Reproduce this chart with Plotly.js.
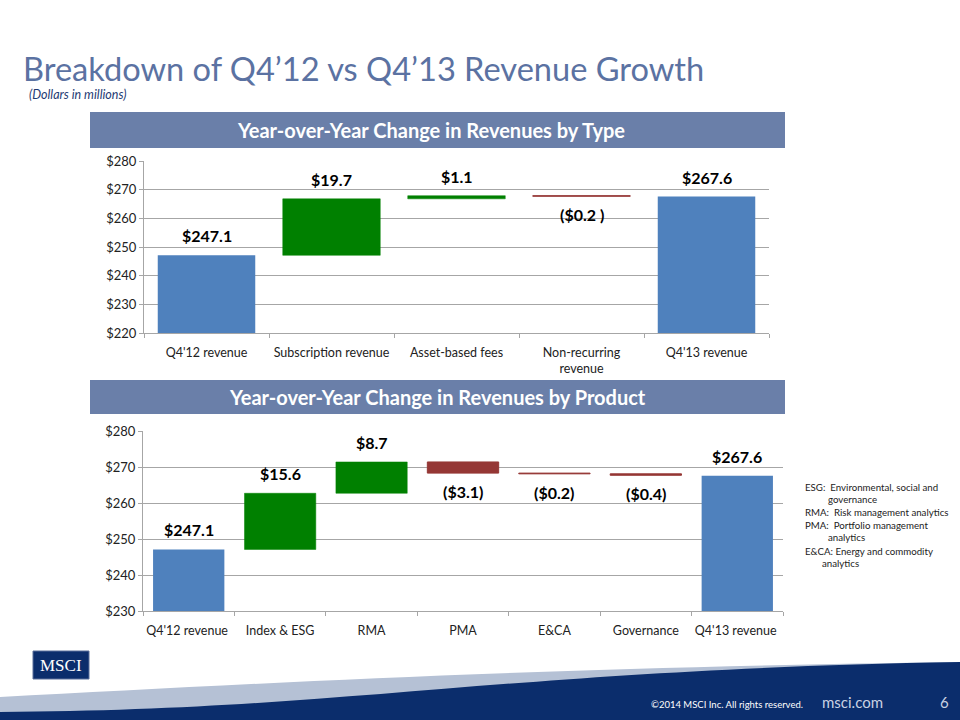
<!DOCTYPE html>
<html>
<head>
<meta charset="utf-8">
<script src="https://cdn.plot.ly/plotly-3.0.1.min.js"></script>
<style>html,body{margin:0;padding:0;background:#fff;}#chart{width:960px;height:720px;}</style>
</head>
<body>
<div id="chart"></div>
<script>
// ---- Data ----
const typeCategories = ["Q4'12 revenue", "Subscription revenue", "Asset-based fees", "Non-recurring<br>revenue", "Q4'13 revenue"];
const typeValues = [247.1, 19.7, 1.1, -0.2, 267.6];
const typeMeasures = ["absolute", "relative", "relative", "relative", "absolute"];
const typeLabels = ["$247.1", "$19.7", "$1.1", "($0.2 )", "$267.6"];

const productCategories = ["Q4'12 revenue ", "Index & ESG", "RMA", "PMA", "E&CA", "Governance", "Q4'13 revenue "];
const productValues = [247.1, 15.6, 8.7, -3.1, -0.2, -0.4, 267.6];
const productMeasures = ["absolute", "relative", "relative", "relative", "relative", "relative", "absolute"];
const productLabels = ["$247.1", "$15.6", "$8.7", "($3.1)", "($0.2)", "($0.4)", "$267.6"];

const yTicksTop = [220, 230, 240, 250, 260, 270, 280];
const yTicksBottom = [230, 240, 250, 260, 270, 280];

// ---- Helpers ----
const W = 960, H = 720;
const X = p => p / W;
const Y = p => 1 - p / H;
const FONT = "Lato, 'Open Sans', sans-serif";

const BLUE = "#4f81bd", GREEN = "#008000", RED = "#953735";

function wfTrace(cats, vals, meas, xa, ya) {
  return {
    type: "waterfall", x: cats, y: vals, measure: meas,
    xaxis: xa, yaxis: ya,
    increasing: {marker: {color: GREEN, line: {color: GREEN, width: 0.5}}},
    decreasing: {marker: {color: RED, line: {color: RED, width: 1}}},
    totals: {marker: {color: BLUE, line: {color: BLUE, width: 0}}},
    connector: {visible: false},
    hoverinfo: "skip", showlegend: false, cliponaxis: false
  };
}

function labelAnnotations(cats, vals, meas, labels, xa, ya) {
  const out = [];
  let cum = 0;
  for (let i = 0; i < vals.length; i++) {
    let start, end;
    if (meas[i] === "absolute") { start = 0; end = vals[i]; cum = vals[i]; }
    else { start = cum; end = cum + vals[i]; cum = end; }
    const up = end >= start;
    out.push({
      xref: xa, yref: ya, x: cats[i], y: up ? Math.max(start, end) : Math.min(start, end),
      text: labels[i], showarrow: false,
      yanchor: up ? "bottom" : "top", yshift: up ? 8 : -7,
      font: {family: FONT, size: 16, color: "#000", weight: "bold"}
    });
  }
  return out;
}

const axisY = {
  showgrid: true, gridcolor: "#a6a6a6", gridwidth: 1, tickmode: "array",
  showline: true, linecolor: "#a6a6a6", linewidth: 1, ticks: "outside", ticklen: 4, tickcolor: "#a6a6a6",
  tickfont: {family: FONT, size: 13, color: "#222"}, zeroline: false, fixedrange: true
};
const axisX = {
  showline: true, linecolor: "#a6a6a6", linewidth: 1, ticks: "outside", ticklen: 4, tickcolor: "#a6a6a6",
  tickson: "boundaries", tickangle: 0, ticklabelstandoff: 8, showgrid: false,
  tickfont: {family: FONT, size: 12.5, color: "#222"}, fixedrange: true
};

const data = [
  wfTrace(typeCategories, typeValues, typeMeasures, "x", "y"),
  wfTrace(productCategories, productValues, productMeasures, "x2", "y2")
];

const annotations = [
  {xref: "paper", yref: "paper", x: X(21), y: Y(68), xanchor: "left", yanchor: "middle",
   text: "Breakdown of Q4’12 vs Q4’13 Revenue Growth", showarrow: false,
   font: {family: FONT, size: 32.6, color: "#5b72a2"}},
  {xref: "paper", yref: "paper", x: X(27), y: Y(95), xanchor: "left", yanchor: "middle",
   text: "<i>(Dollars in millions)</i>", showarrow: false,
   font: {family: FONT, size: 12.5, color: "#1f3b73"}},
  {xref: "paper", yref: "paper", x: X(431), y: Y(130), xanchor: "center", yanchor: "middle",
   text: "<b>Year-over-Year Change in Revenues by Type</b>", showarrow: false,
   font: {family: FONT, size: 20, color: "#ffffff"}},
  {xref: "paper", yref: "paper", x: X(437), y: Y(397), xanchor: "center", yanchor: "middle",
   text: "<b>Year-over-Year Change in Revenues by Product</b>", showarrow: false,
   font: {family: FONT, size: 20, color: "#ffffff"}},
  // glossary
  ...[
    ["ESG:  Environmental, social and", 803, 487],
    ["governance", 826, 499],
    ["RMA:  Risk management analytics", 803, 512],
    ["PMA:  Portfolio management", 803, 525],
    ["analytics", 826, 537],
    ["E&amp;CA: Energy and commodity", 803, 551],
    ["analytics", 820, 563]
  ].map(([t, x, y]) => ({xref: "paper", yref: "paper", x: X(x), y: Y(y), xanchor: "left", yanchor: "middle",
    text: t, showarrow: false, font: {family: FONT, size: 9.7, color: "#222"}})),
  // logo + footer
  {xref: "paper", yref: "paper", x: X(61), y: Y(665), xanchor: "center", yanchor: "middle",
   text: "MSCI", showarrow: false, font: {family: "'Liberation Serif', serif", size: 17, color: "#ffffff"}},
  {xref: "paper", yref: "paper", x: X(805), y: Y(704), xanchor: "right", yanchor: "middle",
   text: "©2014 MSCI Inc. All rights reserved.", showarrow: false, font: {family: FONT, size: 9.5, color: "#ffffff"}},
  {xref: "paper", yref: "paper", x: X(820), y: Y(702), xanchor: "left", yanchor: "middle",
   text: "msci.com", showarrow: false, font: {family: FONT, size: 15, color: "#c9d2e3"}},
  {xref: "paper", yref: "paper", x: X(944), y: Y(702), xanchor: "center", yanchor: "middle",
   text: "6", showarrow: false, font: {family: FONT, size: 15, color: "#c9d2e3"}},
  ...labelAnnotations(typeCategories, typeValues, typeMeasures, typeLabels, "x", "y"),
  ...labelAnnotations(productCategories, productValues, productMeasures, productLabels, "x2", "y2")
];

const shapes = [
  {type: "rect", xref: "paper", yref: "paper", x0: X(90), x1: X(785), y0: Y(148), y1: Y(112),
   fillcolor: "#6a7fa9", line: {width: 0}, layer: "below"},
  {type: "rect", xref: "paper", yref: "paper", x0: X(90), x1: X(785), y0: Y(414), y1: Y(380),
   fillcolor: "#6a7fa9", line: {width: 0}, layer: "below"},
  {type: "path", xref: "paper", yref: "paper", layer: "below",
   path: `M 0 ${Y(697)} C ${X(250)} ${Y(684)} ${X(520)} ${Y(668)} 1 ${Y(662)} L 1 0 L 0 0 Z`,
   fillcolor: "#b5c1d5", line: {width: 0}},
  {type: "path", xref: "paper", yref: "paper", layer: "below",
   path: `M 0 ${Y(712)} C ${X(350)} ${Y(710)} ${X(500)} ${Y(670)} 1 ${Y(662)} L 1 0 L 0 0 Z`,
   fillcolor: "#0b2d6c", line: {width: 0}},
  {type: "rect", xref: "paper", yref: "paper", x0: X(33), x1: X(89), y0: Y(679), y1: Y(651),
   fillcolor: "#0b2d6c", line: {color: "#5a6f9a", width: 1}, layer: "below"}
];

const layout = {
  width: W, height: H, margin: {l: 0, r: 0, t: 0, b: 0},
  paper_bgcolor: "#ffffff", plot_bgcolor: "rgba(0,0,0,0)",
  showlegend: false, waterfallgap: 0.22,
  xaxis: Object.assign({}, axisX, {domain: [X(144), X(769)], anchor: "y"}),
  yaxis: Object.assign({}, axisY, {domain: [Y(333), Y(161)], range: [220, 280],
    tickvals: yTicksTop, ticktext: yTicksTop.map(v => "$" + v), anchor: "x"}),
  xaxis2: Object.assign({}, axisX, {domain: [X(143), X(783)], anchor: "y2"}),
  yaxis2: Object.assign({}, axisY, {domain: [Y(611), Y(431)], range: [230, 280],
    tickvals: yTicksBottom, ticktext: yTicksBottom.map(v => "$" + v), anchor: "x2"}),
  annotations: annotations, shapes: shapes
};

Plotly.newPlot("chart", data, layout, {displayModeBar: false, staticPlot: true});
</script>
</body>
</html>
